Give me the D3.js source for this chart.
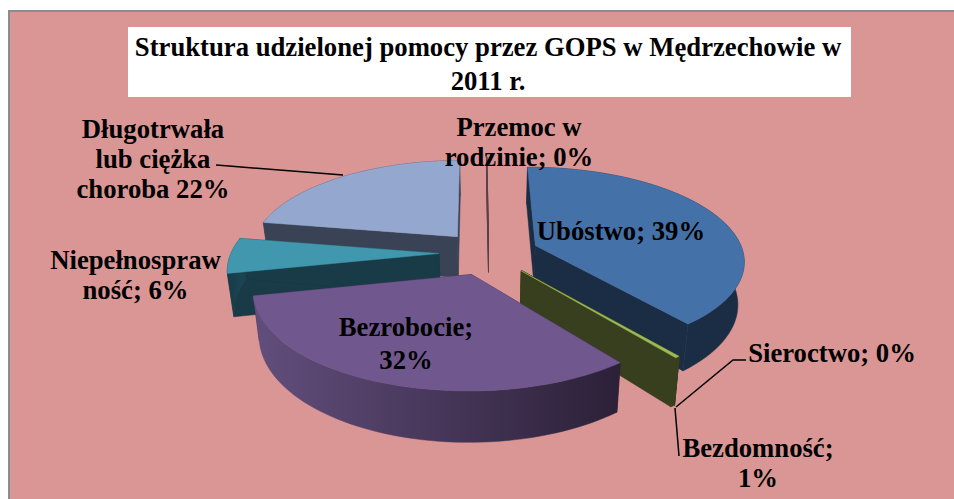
<!DOCTYPE html>
<html><head><meta charset="utf-8">
<script src="https://cdn.jsdelivr.net/npm/d3@7"></script>
<style>html,body{margin:0;padding:0;background:#fff;overflow:hidden}svg{display:block}text{font-family:"Liberation Serif",serif;font-weight:bold;fill:#000}</style>
</head><body><svg id="c" width="954" height="499"></svg>
<script>
const categories=["Ubóstwo","Sieroctwo","Bezdomność","Bezrobocie","Niepełnosprawność","Długotrwała lub ciężka choroba","Przemoc w rodzinie"];
const values=[39,0,0.3,32,6,22,0];
const topColors=["#4472a8","#8fae3e","#9bbb59","#70588e","#4198ae","#93a7cf","#6a4a50"];
const sideColors=["#1a2d45","#383f1f","#383f1f","#2c2038","#183b47","#3a4355","#5a3f45"];
const wallLight=["#1a2d45","#383f1f","#383f1f","#624e7c","#1b4351","#3a4355","#5a3f45"];
const drawOrder=[6,5,4,0,1,2,3];
const titleLines=["Struktura udzielonej pomocy przez GOPS w Mędrzechowie w","2011 r."];
const labelLines=[["Ubóstwo; 39%"],["Sieroctwo; 0%"],["Bezdomność;","1%"],["Bezrobocie;","32%"],["Niepełnospraw","ność; 6%"],["Długotrwała","lub ciężka","choroba 22%"],["Przemoc w","rodzinie; 0%"]];

const svg=d3.select("#c");
svg.append("rect").attr("x",9).attr("y",11).attr("width",960).attr("height",500).attr("fill","#da9694").attr("stroke","#8c8c8c").attr("stroke-width",2);
svg.append("rect").attr("x",128).attr("y",27).attr("width",723).attr("height",70).attr("fill","#fff");
const title=svg.append("g");
titleLines.forEach((t,i)=>title.append("text").attr("x",488).attr("y",56+i*34).attr("text-anchor","middle").attr("font-size",26.7).text(t));

const rot=-0.6*Math.PI/180;
const pie=d3.pie().sort(null).value(d=>d).startAngle(rot).endAngle(2*Math.PI+rot);
const arcs=pie(values);
const cx=489,cy=253,Rx=208,Ry=92,k=0.149,explode=0.24,depth=42,shrink=0.975;
const scaleX=d3.scaleLinear().domain([0,1]).range([cx,cx+Rx]);
const scaleY=d3.scaleLinear().domain([0,1]).range([cy,cy+Ry]);
function proj(u,v,bottom){
  const w=1/(1-k*v);
  const x=scaleX(u*w),y=scaleY(v*w);
  return bottom?[cx+(x-cx)*shrink,y+depth*w]:[x,y];
}
function pt(a,r,off,bottom){
  return proj(r*Math.sin(a)+off[0],-r*Math.cos(a)+off[1],bottom);
}
const line=d3.line();
const defs=svg.append("defs");
const g=svg.append("g");
drawOrder.forEach(i=>{
  const d=arcs[i];
  const mid=(d.startAngle+d.endAngle)/2;
  const off=[explode*Math.sin(mid),-explode*Math.cos(mid)];
  const angs=d3.range(0,61).map(j=>d.startAngle+(d.endAngle-d.startAngle)*j/60);
  const zero=d.value===0;
  const apexT=pt(0,0,off,false),apexB=pt(0,0,off,true);
  const face=a=>[apexT,pt(a,1,off,false),pt(a,1,off,true),apexB];
  const sw=zero?1:0.5;
  g.append("path").attr("d",line(face(d.startAngle))+"Z").attr("fill",sideColors[i]).attr("stroke",sideColors[i]).attr("stroke-width",sw);
  g.append("path").attr("d",line(face(d.endAngle))+"Z").attr("fill",sideColors[i]).attr("stroke",sideColors[i]).attr("stroke-width",sw);
  if(zero) return;
  const rimT=angs.map(a=>pt(a,1,off,false)),rimB=angs.map(a=>pt(a,1,off,true));
  const id="w"+i;
  const lg=defs.append("linearGradient").attr("id",id).attr("gradientUnits","userSpaceOnUse")
    .attr("x1",rimT[60][0]).attr("x2",rimT[0][0]).attr("y1",0).attr("y2",0);
  lg.append("stop").attr("offset",0).attr("stop-color",wallLight[i]);
  lg.append("stop").attr("offset",1).attr("stop-color",sideColors[i]);
  g.append("path").attr("d",line(rimT.concat(rimB.slice().reverse()))+"Z").attr("fill",`url(#${id})`).attr("stroke",`url(#${id})`).attr("stroke-width",.5);
  g.append("path").attr("d",line([apexT].concat(rimT))+"Z").attr("fill",topColors[i]).attr("stroke",topColors[i]).attr("stroke-width",.5);
});

const leaders=[[[216,165],[229,166],[343,175]],[[746,360],[733,360],[676,407]],[[675,408],[679,456]]];
leaders.forEach(l=>svg.append("path").attr("d",line(l)).attr("fill","none").attr("stroke","#000").attr("stroke-width",1.5));

const pos=[[621,240],[832,362],[758,457],[406,336],[135.5,269],[153,138],[519,136]];
const lh=[0,0,30,33,30,30,30];
labelLines.forEach((lines,i)=>{
  lines.forEach((t,j)=>svg.append("text").attr("x",pos[i][0]).attr("y",pos[i][1]+j*lh[i]).attr("text-anchor","middle").attr("font-size",26.7).text(t));
});
</script></body></html>
